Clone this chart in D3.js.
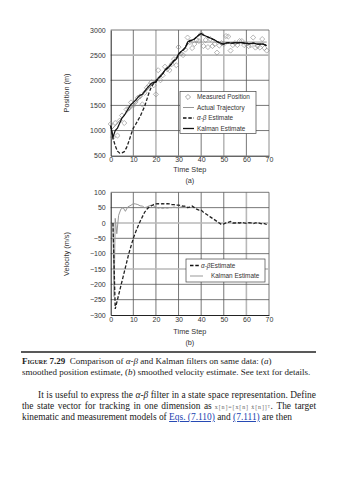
<!DOCTYPE html>
<html><head><meta charset="utf-8">
<script src="https://cdn.jsdelivr.net/npm/d3@7"></script>
<style>
html,body{margin:0;padding:0;background:#fff;}
svg{display:block;}
.tick text{font-family:"Liberation Sans",Arial,sans-serif;font-size:7px;fill:#333;}
.lab{font-family:"Liberation Sans",Arial,sans-serif;font-size:7.3px;fill:#333;}
.cap{font-family:"Liberation Serif","Times New Roman",serif;font-size:9px;fill:#222;}
.par{font-family:"Liberation Serif","Times New Roman",serif;font-size:9.4px;fill:#222;}
</style></head><body>
<script>
// ---------------- DATA ----------------
const xTicks = [0,10,20,30,40,50,60,70];
const posTicks = [500,1000,1500,2000,2500,3000];
const velTicks = [100,50,0,-50,-100,-150,-200,-250,-300];

const posTime = d3.range(0,70);
const measuredPos = [1130,870,1150,900,1200,1300,1150,1420,1440,1560,1500,1570,1650,1680,1520,1750,1850,1900,1960,1900,
  1720,2200,2000,2100,2270,2220,2200,2320,2420,2300,2660,2530,2500,2610,2850,2760,2640,2720,2800,2780,
  2920,2680,2800,2660,2820,2680,2720,2550,2690,2740,2720,2880,2870,2590,2700,2740,2700,2780,2780,2700,
  2720,2680,2700,2850,2650,2680,2650,2820,2640,2590];
const actualTime = [0,35,69];
const actualPos = [1000,2760,2760];
const alphaBetaPos = [1100,850,700,590,550,555,580,660,780,920,1050,1120,1200,1280,1380,1480,1620,1760,1870,1940,
  1990,2040,2080,2130,2200,2240,2280,2330,2390,2420,2510,2560,2600,2650,2740,2780,2800,2820,2860,2900,
  2930,2900,2880,2860,2840,2820,2800,2770,2750,2730,2720,2740,2750,2740,2740,2750,2745,2750,2750,2740,
  2735,2730,2730,2740,2730,2720,2720,2725,2710,2690];
const kalmanPos = [1100,870,1000,1050,1150,1250,1300,1380,1450,1520,1560,1600,1660,1700,1720,1780,1840,1890,1940,1960,
  1960,2040,2080,2130,2200,2240,2280,2330,2390,2420,2520,2570,2600,2650,2760,2790,2800,2820,2860,2900,
  2930,2900,2880,2860,2840,2820,2800,2770,2750,2730,2720,2740,2750,2740,2740,2750,2745,2750,2750,2740,
  2735,2730,2730,2740,2730,2720,2720,2725,2710,2690];

const abVelTime = d3.range(1,70);
const alphaBetaVel = [0,-280,-250,-220,-190,-160,-130,-100,-75,-50,-30,-12,5,20,35,45,52,56,60,62,
  63,62,63,62,63,62,60,60,58,58,57,55,55,50,52,55,50,45,42,42,35,30,25,20,15,10,5,0,-5,
  -3,0,2,5,0,0,1,0,2,0,-1,1,0,-2,0,1,-1,-3,-2,-5];
const kalVelTime = [1,1.5,2,2.7,3.5,4.5,5.5,6.5,7.5,9,10,11,12,13,14,15,16,17,18,19,20,21,22,23,24,25,26,27,28,29,30,31,32,33,34,35];
const kalmanVel = [0,-240,15,-35,25,45,50,38,52,58,63,62,60,56,55,50,52,56,58,56,52,48,50,47,50,48,50,50,52,50,50,52,53,52,50,52];

// ---------------- CHART ----------------
const W=339,H=480;
const svg=d3.select("body").append("svg").attr("width",W).attr("height",H);
const x=d3.scaleLinear().domain([0,70]).range([110.7,269]);
const yP=d3.scaleLinear().domain([500,3000]).range([155.7,30]);
const yV=d3.scaleLinear().domain([-300,100]).range([315,192.3]);

function grid(y, yt, lightX, lightY){
  const g=svg.append("g");
  xTicks.filter(t=>t>0).forEach(t=>{
    const light=lightX.includes(t);
    g.append("line").attr("x1",x(t)).attr("x2",x(t)).attr("y1",y.range()[0]).attr("y2",y.range()[1])
     .attr("stroke",light?"#b8b8b8":"#555").attr("stroke-width",light?1.6:0.8);
  });
  yt.filter(t=>t!==y.domain()[0]).forEach(t=>{
    const light=lightY.includes(t);
    g.append("line").attr("x1",x(0)).attr("x2",x(70)).attr("y1",y(t)).attr("y2",y(t))
     .attr("stroke",light?"#b8b8b8":"#555").attr("stroke-width",light?1.6:0.8);
  });
}
grid(yP,posTicks,[20,50,70],[2500]);
grid(yV,velTicks,[60],[0,-150]);

function axes(y, yt, bottom, pad){
  svg.append("g").attr("transform",`translate(0,${bottom})`)
    .call(d3.axisBottom(x).tickValues(xTicks).tickSize(0).tickPadding(pad).tickFormat(d3.format("d")))
    .call(g=>g.select(".domain").attr("stroke","#222").attr("stroke-width",1));
  svg.append("g").attr("transform",`translate(${x(0)},0)`)
    .call(d3.axisLeft(y).tickValues(yt).tickSize(0).tickPadding(5).tickFormat(d=>d<0?"\u2212"+Math.abs(d):d))
    .call(g=>g.select(".domain").attr("stroke","#222").attr("stroke-width",1));
}
axes(yP,posTicks,yP(500),1.5);
axes(yV,velTicks,yV(-300),2.5);

// Top plot lines
const lineP=d3.line().x(d=>x(d[0])).y(d=>yP(d[1]));
svg.append("path").datum(actualTime.map((t,i)=>[t,actualPos[i]])).attr("d",lineP)
  .attr("fill","none").attr("stroke","#8a8a8a").attr("stroke-width",0.9);
svg.append("g").selectAll("path").data(posTime.map((t,i)=>[t,measuredPos[i]])).join("path")
  .attr("d",d3.symbol(d3.symbolSquare,13)).attr("transform",d=>`translate(${x(d[0])},${yP(d[1])}) rotate(45)`)
  .attr("fill","none").attr("stroke","#8a8a8a").attr("stroke-width",0.6);
svg.append("path").datum(posTime.map((t,i)=>[t,alphaBetaPos[i]])).attr("d",lineP)
  .attr("fill","none").attr("stroke","#222").attr("stroke-width",1.3).attr("stroke-dasharray","3.5,1.8");
svg.append("path").datum(posTime.map((t,i)=>[t,kalmanPos[i]])).attr("d",lineP)
  .attr("fill","none").attr("stroke","#111").attr("stroke-width",1.2);

// Bottom plot lines
const lineV=d3.line().x(d=>x(d[0])).y(d=>yV(d[1]));
svg.append("path").datum(kalVelTime.map((t,i)=>[t,kalmanVel[i]])).attr("d",lineV)
  .attr("fill","none").attr("stroke","#999").attr("stroke-width",1);
svg.append("path").datum(abVelTime.map((t,i)=>[t,alphaBetaVel[i]])).attr("d",lineV)
  .attr("fill","none").attr("stroke","#222").attr("stroke-width",1.3).attr("stroke-dasharray","3.5,1.8");

// Axis labels
function ylab(txt,cy){svg.append("text").attr("class","lab").attr("text-anchor","middle")
  .attr("transform",`translate(69,${cy}) rotate(-90)`).text(txt);}
ylab("Position (m)",93);
ylab("Velocity (m/s)",254);
function clab(txt,yy){svg.append("text").attr("class","lab").attr("text-anchor","middle").attr("x",x(35)).attr("y",yy).text(txt);}
clab("Time Step",171.5); clab("(a)",182.5);
clab("Time Step",333.5); clab("(b)",344.5);

// Legend top
const lg=svg.append("g");
lg.append("rect").attr("x",180).attr("y",91.5).attr("width",76).attr("height",42).attr("fill","#fff").attr("stroke","#444").attr("stroke-width",0.7);
const items=[["Measured Position","dia"],["Actual Trajectory","act"],["\u03b1-\u03b2 Estimate","ab"],["Kalman Estimate","kal"]];
items.forEach((it,i)=>{
  const yy=97+i*10.5;
  if(it[1]==="dia") lg.append("path").attr("d",d3.symbol(d3.symbolSquare,13)).attr("transform",`translate(188,${yy}) rotate(45)`).attr("fill","none").attr("stroke","#777").attr("stroke-width",0.6);
  else lg.append("line").attr("x1",183).attr("x2",194).attr("y1",yy).attr("y2",yy)
    .attr("stroke",it[1]==="act"?"#8a8a8a":"#111").attr("stroke-width",it[1]==="act"?0.9:1.3)
    .attr("stroke-dasharray",it[1]==="ab"?"3.5,1.8":null);
  const t=lg.append("text").attr("class","lab").attr("x",197).attr("y",yy+2.2).style("font-size","6.4px");
  if(it[1]==="ab"){t.append("tspan").style("font-style","italic").text("\u03b1-\u03b2");t.append("tspan").text(" Estimate");}
  else t.text(it[0]);
});

// Legend bottom
const lb=svg.append("g");
lb.append("rect").attr("x",186).attr("y",259).attr("width",79).attr("height",23).attr("fill","#fff").attr("stroke","#444").attr("stroke-width",0.7);
lb.append("line").attr("x1",190).attr("x2",199).attr("y1",265.5).attr("y2",265.5).attr("stroke","#111").attr("stroke-width",1.3).attr("stroke-dasharray","3.5,1.8");
const t1=lb.append("text").attr("class","lab").attr("x",201).attr("y",267.8).style("font-size","6.4px");
t1.append("tspan").style("font-style","italic").text("\u03b1-\u03b2");t1.append("tspan").text("Estimate");
lb.append("line").attr("x1",190).attr("x2",203).attr("y1",276).attr("y2",276).attr("stroke","#999").attr("stroke-width",1);
lb.append("text").attr("class","lab").attr("x",211).attr("y",278.3).style("font-size","6.4px").text("Kalman Estimate");

// Caption & paragraph
function fit(sel,target){ // only stretch (justify), never compress
  const w=sel.node().getComputedTextLength();
  if(w<target) sel.attr("textLength",target).attr("lengthAdjust","spacing");
  return w;
}
svg.append("line").attr("x1",21).attr("x2",316).attr("y1",352).attr("y2",352).attr("stroke","#222").attr("stroke-width",1.4);
const c1=svg.append("text").attr("class","cap").attr("x",22).attr("y",364);
c1.append("tspan").style("font-variant","small-caps").style("font-weight","bold").text("Figure 7.29");
c1.append("tspan").text("\u2002Comparison of ");
c1.append("tspan").style("font-style","italic").text("\u03b1-\u03b2");
c1.append("tspan").text(" and Kalman filters on same data: (");
c1.append("tspan").style("font-style","italic").text("a");
c1.append("tspan").text(")");
fit(c1,231);
const c2=svg.append("text").attr("class","cap").attr("x",22).attr("y",375);
c2.append("tspan").text("smoothed position estimate, (");
c2.append("tspan").style("font-style","italic").text("b");
c2.append("tspan").text(") smoothed velocity estimate. See text for details.");
fit(c2,285);

const p1=svg.append("text").attr("class","par").attr("x",38).attr("y",398);
p1.append("tspan").text("It is useful to express the ");
p1.append("tspan").style("font-style","italic").text("\u03b1-\u03b2");
p1.append("tspan").text(" filter in a state space representation. Define");
fit(p1,278);
const s1=svg.append("text").attr("class","par").attr("x",22).attr("y",409).attr("word-spacing","1.2px")
  .text("the state vector for tracking in one dimension as");
const w1=s1.node().getComputedTextLength();
const s3=svg.append("text").attr("class","par").attr("x",316).attr("y",409).attr("text-anchor","end").attr("word-spacing","1.5px")
  .text(". The target");
const w3=s3.node().getComputedTextLength();
const eqX=22+w1+3, eqW=(316-w3)-eqX-0.5;
const eq=svg.append("text").attr("class","par").attr("x",eqX).attr("y",408.5)
  .style("font-size","6px").style("fill","#666").text("x[n]=[x[n]  \u1e8b[n]]\u1d40");
fit(eq,eqW);
const p3=svg.append("text").attr("class","par").attr("x",22).attr("y",420);
p3.append("tspan").text("kinematic and measurement models of ");
p3.append("tspan").style("fill","#1a3fb0").style("text-decoration","underline").text("Eqs. (7.110)");
p3.append("tspan").text(" and ");
p3.append("tspan").style("fill","#1a3fb0").style("text-decoration","underline").text("(7.111)");
p3.append("tspan").text(" are then");
</script>
</body></html>
